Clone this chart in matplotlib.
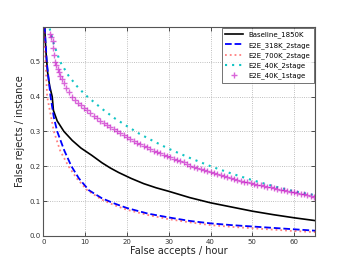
import matplotlib
matplotlib.use("Agg")
import matplotlib.pyplot as plt

# Baseline_1850K
base_x = [0.3, 0.6, 1.0, 1.5, 2.1, 2.4, 3.3, 4.9, 6.9, 9.0, 11.6, 14, 16, 18, 21, 24, 27, 30, 35, 40, 45, 50, 55, 60, 65]
base_y = [0.6, 0.53, 0.47, 0.43, 0.4, 0.36, 0.33, 0.3, 0.274, 0.252, 0.231, 0.21, 0.195, 0.182, 0.165, 0.15, 0.138, 0.128, 0.11, 0.095, 0.083, 0.071, 0.061, 0.052, 0.044]

# E2E_318K_2stage
b318_x = [0.3, 0.8, 1.7, 2.5, 3.3, 5, 6.7, 8.5, 10.9, 14, 17, 20, 25, 30, 35, 40, 45, 50, 55, 60, 65]
b318_y = [0.6, 0.5, 0.4, 0.34, 0.3, 0.245, 0.2, 0.165, 0.131, 0.108, 0.093, 0.08, 0.064, 0.053, 0.043, 0.036, 0.031, 0.027, 0.023, 0.019, 0.015]

# E2E_700K_2stage
r700_x = [0.2, 0.5, 0.9, 2.5, 4, 6, 8, 10.5, 14, 17, 20, 25, 30, 35, 40, 45, 50, 55, 60, 65]
r700_y = [0.6, 0.5, 0.4, 0.3, 0.245, 0.2, 0.165, 0.131, 0.104, 0.088, 0.075, 0.06, 0.048, 0.039, 0.031, 0.026, 0.022, 0.018, 0.014, 0.011]

# E2E_40K_2stage
c40_x = [1.5, 2.5, 4, 6, 8, 10, 12, 14, 17, 20, 23, 26, 30, 35, 40, 45, 50, 55, 60, 65]
c40_y = [0.595, 0.55, 0.5, 0.46, 0.43, 0.405, 0.385, 0.365, 0.338, 0.315, 0.293, 0.274, 0.25, 0.224, 0.2, 0.179, 0.16, 0.143, 0.128, 0.117]

# E2E_40K_1stage
m40_x = [1.6, 1.9, 2.2, 2.4, 2.6, 2.8, 3.1, 3.4, 3.7, 4.0, 4.4, 4.9, 5.5, 6.1, 6.8, 7.5, 8.2, 8.9, 9.6,
         10.4, 11.2, 12.0, 12.8, 13.6, 14.4, 15.2, 16.0, 16.8, 17.6, 18.4, 19.2, 20.0, 20.8, 21.6, 22.4,
         23.2, 24.0, 24.8, 25.6, 26.4, 27.2, 28.0, 28.8, 29.6, 30.4, 31.2, 32.0, 32.8, 33.6, 34.4, 35.2,
         36.0, 36.8, 37.6, 38.4, 39.2, 40.0, 40.8, 41.6, 42.4, 43.2, 44.0, 44.8, 45.6, 46.4, 47.2, 48.0,
         48.8, 49.6, 50.4, 51.2, 52.0, 52.8, 53.6, 54.4, 55.2, 56.0, 56.8, 57.6, 58.4, 59.2, 60.0, 60.8,
         61.6, 62.4, 63.2, 64.0, 64.8]
m40_y = [0.578, 0.57, 0.56, 0.54, 0.52, 0.5, 0.49, 0.48, 0.47, 0.46, 0.45, 0.438, 0.425, 0.412, 0.4,
         0.391, 0.382, 0.375, 0.368, 0.36, 0.352, 0.345, 0.338, 0.331, 0.325, 0.318, 0.312, 0.306, 0.301,
         0.295, 0.29, 0.284, 0.279, 0.273, 0.268, 0.263, 0.259, 0.254, 0.25, 0.245, 0.241, 0.237, 0.233,
         0.23, 0.226, 0.222, 0.219, 0.215, 0.211, 0.206, 0.202, 0.199, 0.196, 0.193, 0.19, 0.187, 0.184,
         0.181, 0.178, 0.175, 0.172, 0.169, 0.167, 0.164, 0.161, 0.159, 0.156, 0.154, 0.151, 0.149, 0.147,
         0.145, 0.143, 0.141, 0.139, 0.137, 0.135, 0.133, 0.131, 0.129, 0.127, 0.125, 0.123, 0.121, 0.119,
         0.117, 0.115, 0.113]

fig = plt.figure(figsize=(3.5, 2.63), dpi=100)
ax = fig.add_axes([0.124, 0.103, 0.776, 0.795])

ax.plot(base_x, base_y, '-', color='black', lw=1.2, label='Baseline_1850K')
ax.plot(b318_x, b318_y, '--', color='blue', lw=1.3, label='E2E_318K_2stage')
ax.plot(r700_x, r700_y, ':', color='red', lw=1.3, alpha=0.5, label='E2E_700K_2stage')
ax.plot(c40_x, c40_y, linestyle=(0, (1, 2.4)), color='#11c4c4', lw=1.5, label='E2E_40K_2stage')
ax.plot(m40_x, m40_y, '+', color='#c000c0', ms=4.5, mew=1.0, alpha=0.6, label='E2E_40K_1stage')

ax.set_xlim(0, 65)
ax.set_ylim(0, 0.6)
ax.set_xticks([0, 10, 20, 30, 40, 50, 60])
ax.set_yticks([0.0, 0.1, 0.2, 0.3, 0.4, 0.5])
ax.grid(True, color='#aaaaaa', linestyle=':', lw=0.6)
ax.tick_params(direction='in', labelsize=5, length=3, width=0.6, colors='#333333', pad=2,
               top=True, right=True)
for s in ax.spines.values():
    s.set_color('#555555')
    s.set_linewidth(0.8)
ax.set_xlabel('False accepts / hour', fontsize=7, labelpad=1, color='#222222')
ax.set_ylabel('False rejects / instance', fontsize=7, labelpad=3, color='#222222')

leg = ax.legend(loc='upper right', fontsize=5, frameon=True, fancybox=False, handlelength=2.5,
                borderpad=0.5, labelspacing=0.5, borderaxespad=0.2)
leg.get_frame().set_edgecolor('#333333')
leg.get_frame().set_linewidth(0.6)

fig.savefig('out.png', dpi=100)
